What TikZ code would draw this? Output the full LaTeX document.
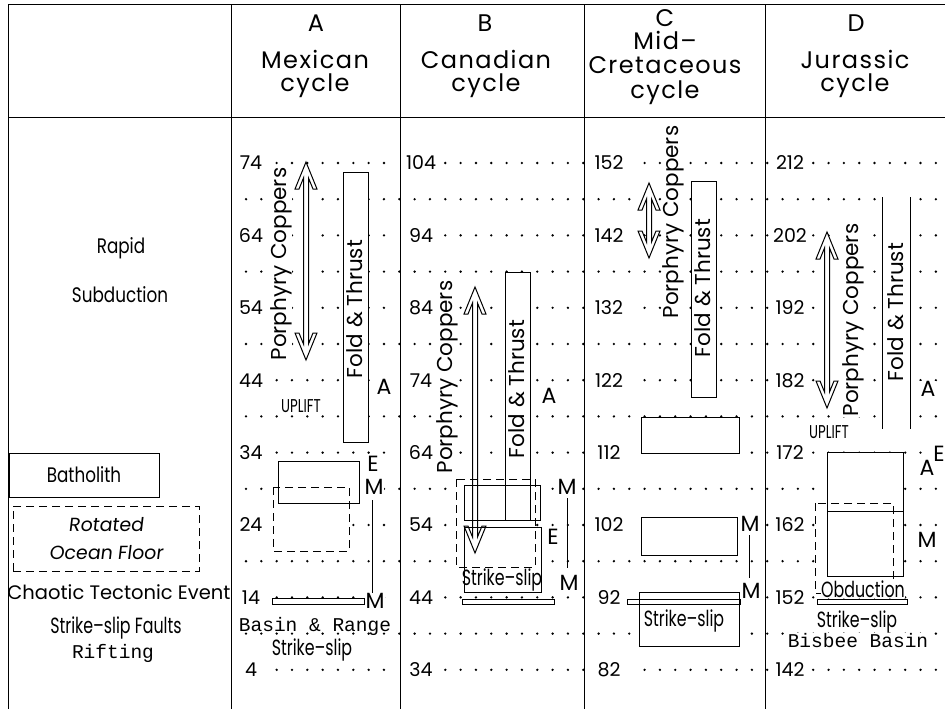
\documentclass[tikz,border=0pt]{standalone}
\usepackage{fontspec}
\newfontfamily\pop{Poppins}
\newfontfamily\popls{Poppins}[LetterSpace=6]
\newfontfamily\popc{Poppins}[FakeStretch=0.8]
\newfontfamily\popcc{Poppins}[FakeStretch=0.72]
\newfontfamily\popsl{Poppins}[FakeSlant=0.12]
\newfontfamily\monofam{Liberation Mono}

\newcommand\hollowarrow[3]{%
  (#1,#2) -- ({#1+11},{#2+27}) -- ({#1+7},{#2+27}) -- ({#1+2.5},{#2+16}) --
  ({#1+2.5},{#3-16}) -- ({#1+7},{#3-27}) -- ({#1+11},{#3-27}) -- (#1,#3) --
  ({#1-11},{#3-27}) -- ({#1-7},{#3-27}) -- ({#1-2.5},{#3-16}) --
  ({#1-2.5},{#2+16}) -- ({#1-7},{#2+27}) -- ({#1-11},{#2+27}) -- cycle}

\newcommand\allshapes[1]{%
  % column A
  \path[#1] (343,172) rectangle (368,442);
  \path[#1] \hollowarrow{306}{162}{360};
  \path[#1] (278,461) rectangle (359,503);
  \path[#1,dbox] (273,487) rectangle (349,551);
  \path[#1] (272,598) rectangle (364,604);
  % column B
  \path[#1] (505,272) rectangle (530,520);
  \path[#1] (464,485) rectangle (540,520);
  \path[#1,dbox] (456,479) rectangle (535,567);
  \path[#1] (464,527) rectangle (541,592);
  \path[#1] \hollowarrow{475}{287}{553};
  \path[#1] (462,599) rectangle (554,604);
  % column C
  \path[#1] (691,181) rectangle (716,397);
  \path[#1] \hollowarrow{649}{183}{258};
  \path[#1] (641,417) rectangle (739,453);
  \path[#1] (641,517) rectangle (737,555);
  \path[#1] (639,592) rectangle (739,646);
  \path[#1] (627,599) rectangle (740,604);
  % column D
  \path[#1] \hollowarrow{827}{232}{408};
  \path[#1] (827,452) rectangle (903,576);
  \path[#1,dbox] (815,503) rectangle (893,593);
  \path[#1] (817,599) rectangle (907,604);
}

\begin{document}
\begin{tikzpicture}[x=1pt,y=-1pt,line width=1pt,
  dbox/.style={dash pattern=on 8pt off 5pt},
  hdr/.style={font=\popls\fontsize{24}{24}\selectfont,inner sep=0pt,anchor=base},
  num/.style={font=\pop\fontsize{19}{19}\selectfont,inner sep=0.5pt},
  rot/.style={rotate=90,font=\pop\fontsize{21.5}{21.5}\selectfont,inner sep=0.5pt,fill=white},
  lett/.style={font=\pop\fontsize{22}{22}\selectfont,inner sep=0.5pt,fill=white},
  cond/.style={font=\popcc\fontsize{22}{22}\selectfont,inner sep=0.5pt},
  upl/.style={font=\popcc\fontsize{18.5}{18.5}\selectfont,inner sep=0.5pt},
  lgd/.style={font=\popc\fontsize{21}{21}\selectfont,inner sep=0.5pt},
  ser/.style={font=\monofam\fontsize{19.5}{19.5}\selectfont,inner sep=0.5pt}]
\useasboundingbox (0,0) rectangle (945,709);

% dotted grid
\foreach \j in {1,3,...,13}
  \foreach \k in {0,...,45}
    \fill ({246+15.33*\k},{163+36.2*\j}) circle[radius=1.3pt];
\foreach \j in {0,2,...,14}{
  \foreach \k in {2,...,9} \fill ({246+15.33*\k},{163+36.2*\j}) circle[radius=1.3pt];
  \foreach \k in {13,...,22} \fill ({246+15.33*\k},{163+36.2*\j}) circle[radius=1.3pt];
  \foreach \k in {26,...,34} \fill ({246+15.33*\k},{163+36.2*\j}) circle[radius=1.3pt];
  \foreach \k in {37,...,45} \fill ({246+15.33*\k},{163+36.2*\j}) circle[radius=1.3pt];
}

% white fills, then outlines
\allshapes{fill=white}
\fill[white] (882,197) rectangle (910,429);
\allshapes{draw}
\draw (882,197) -- (882,429);
\draw (910,197) -- (910,429);
\draw (827,511) -- (903,511);
\draw (372,500) -- (372,593);
\draw (567,498) -- (567,568);
\draw (749,535) -- (749,578);

% frame
\draw (8,5) -- (945,5);
\draw (8,117) -- (945,117);
\foreach \x in {8,231,400,584,765} \draw (\x,5) -- (\x,709);

% header
\node[hdr] (hA1) at (316,32) {A};
\node[hdr] (hA2) at (315,68) {Mexican};
\node[hdr] (hA3) at (315,92) {cycle};
\node[hdr] (hB1) at (485,32) {B};
\node[hdr] (hB2) at (486,68) {Canadian};
\node[hdr] (hB3) at (486,92) {cycle};
\node[hdr] (hC1) at (665,27) {C};
\node[hdr] (hC2) at (665,50) {Mid–};
\node[hdr] (hC3) at (665,74) {Cretaceous};
\node[hdr] (hC4) at (665,98) {cycle};
\node[hdr] (hD1) at (856,32) {D};
\node[hdr] (hD2) at (855,68) {Jurassic};
\node[hdr] (hD3) at (855,92) {cycle};

% left legend
\node[lgd] (rapid) at (121,248) {Rapid};
\node[lgd] (subd) at (120,295) {Subduction};
\node[lgd,draw,minimum width=150pt,minimum height=44pt] (bath) at (84,475) {Batholith};
\node[draw,dbox,minimum width=186pt,minimum height=65pt,align=center,
      font=\popsl\fontsize{19}{28}\selectfont] (rof) at (106,538.5) {Rotated\\Ocean Floor};
\node[font=\pop\fontsize{19.5}{19.5}\selectfont,inner sep=0.5pt] (chaos) at (119,592) {Chaotic Tectonic Event};
\node[cond] (ssf) at (116,628) {Strike–slip Faults};
\node[ser] (rift) at (113,653) {Rifting};

% age numbers
\foreach \j/\a/\b/\c/\d in {0/74/104/152/212,2/64/94/142/202,4/54/84/132/192,
  6/44/74/122/182,8/34/64/112/172,10/24/54/102/162,12/14/44/92/152,14/4/34/82/142}{
  \node[num] (nA\j) at (251,{163+36.2*\j}) {\a};
  \node[num] (nB\j) at (421,{163+36.2*\j}) {\b};
  \node[num] (nC\j) at (609,{163+36.2*\j}) {\c};
  \node[num] (nD\j) at (790,{163+36.2*\j}) {\d};
}

% rotated labels
\node[rot] (pcA) at (281,264) {Porphyry Coppers};
\node[rot] (ftA) at (355,309) {Fold \& Thrust};
\node[rot] (pcB) at (447,377) {Porphyry Coppers};
\node[rot] (ftB) at (517,389) {Fold \& Thrust};
\node[rot] (pcC) at (673,222) {Porphyry Coppers};
\node[rot] (ftC) at (703,288) {Fold \& Thrust};
\node[rot] (pcD) at (853,320) {Porphyry Coppers};
\node[rot] (ftD) at (896,312) {Fold \& Thrust};

% letters
\node[lett] (aA) at (384,387) {A};
\node[lett] (eA) at (373,464) {E};
\node[lett] (mA1) at (374,487) {M};
\node[lett] (mA2) at (375,601) {M};
\node[lett] (aB) at (549,396) {A};
\node[lett] (mB1) at (567,487) {M};
\node[lett] (eB) at (553,537) {E};
\node[lett] (mB2) at (569,583) {M};
\node[lett] (mC1) at (750,524) {M};
\node[lett] (mC2) at (751,591) {M};
\node[lett] (aD) at (928,389) {A};
\node[lett] (aD2) at (927,468) {A};
\node[lett] (eD) at (939,454) {E};
\node[lett] (mD) at (927,540) {M};

% other texts
\node[upl,fill=white] (upA) at (301,406) {UPLIFT};
\node[upl,fill=white] (upD) at (829,432) {UPLIFT};
\node[cond] (ssA) at (312,650) {Strike–slip};
\node[cond] (ssB) at (502,580) {Strike–slip};
\node[cond] (ssC) at (684,621) {Strike–slip};
\node[cond] (ssD) at (857,622) {Strike–slip};
\node[cond,fill=white] (obD) at (863,589) {Obduction};
\node[ser] (brA) at (315,626) {Basin \& Range};
\node[ser,fill=white] (bbD) at (858,641) {Bisbee Basin};
\end{tikzpicture}
\end{document}
